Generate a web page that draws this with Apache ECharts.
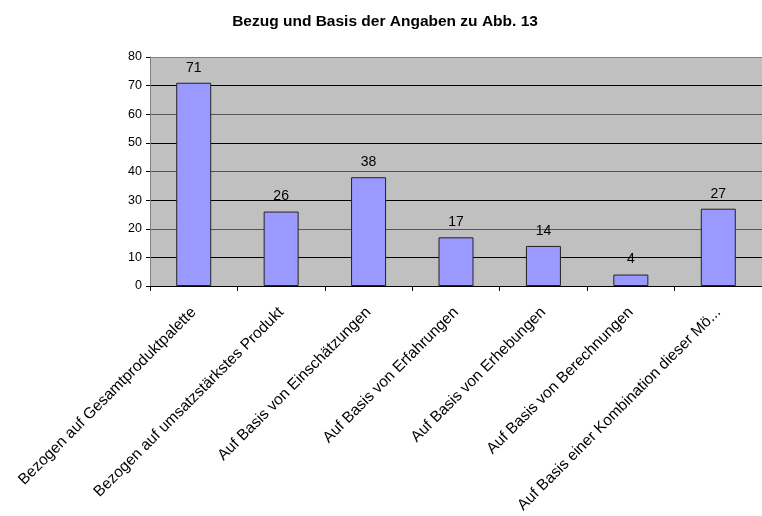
<!DOCTYPE html>
<html>
<head>
<meta charset="utf-8">
<script src="https://cdn.jsdelivr.net/npm/echarts@6/dist/echarts.min.js"></script>
<style>
  html, body { margin: 0; padding: 0; background: #fff; }
  #chart { width: 762px; height: 516px; }
</style>
</head>
<body>
<div id="chart"></div>
<script>
// Kategorien und Werte
const categories = [
  'Bezogen auf Gesamtproduktpalette',
  'Bezogen auf umsatzstärkstes Produkt',
  'Auf Basis von Einschätzungen',
  'Auf Basis von Erfahrungen',
  'Auf Basis von Erhebungen',
  'Auf Basis von Berechnungen',
  'Auf Basis einer Kombination dieser Mö...'
];
const values = [71, 26, 38, 17, 14, 4, 27];
const yTicks = [0, 10, 20, 30, 40, 50, 60, 70, 80];

const font = '"Liberation Sans", Arial, sans-serif';
const chart = echarts.init(document.getElementById('chart'));
chart.setOption({
  animation: false,
  title: {
    text: 'Bezug und Basis der Angaben zu Abb. 13',
    left: 380,
    top: 9,
    textAlign: 'center',
    textStyle: { fontFamily: font, fontSize: 15.5, fontWeight: 'bold', color: '#000' }
  },
  grid: {
    left: 150,
    top: 57,
    width: 616,
    height: 229,
    backgroundColor: '#c0c0c0',
    show: true,
    borderWidth: 0
  },
  xAxis: {
    type: 'category',
    data: categories,
    boundaryGap: true,
    axisLine: { lineStyle: { color: '#000', width: 1 } },
    axisTick: { show: true, length: 5, lineStyle: { color: '#000' } },
    axisLabel: {
      rotate: 45,
      interval: 0,
      margin: 24,
      fontFamily: font,
      fontSize: 15.5,
      color: '#000'
    }
  },
  yAxis: {
    type: 'value',
    min: yTicks[0],
    max: yTicks[yTicks.length - 1],
    interval: 10,
    axisLine: { show: true, lineStyle: { color: '#808080', width: 1 } },
    axisTick: { show: true, length: 4, lineStyle: { color: '#000' } },
    axisLabel: { fontFamily: font, fontSize: 12.5, color: '#000', margin: 8 },
    splitLine: { show: true, lineStyle: { color: ['#000', '#000', '#555', '#000', '#555', '#000', '#555', '#000', '#808080'], width: 1 } }
  },
  series: [{
    type: 'bar',
    data: values,
    barWidth: 35,
    itemStyle: { color: '#9999ff', borderColor: '#222', borderWidth: 1 },
    label: {
      show: true,
      position: 'top',
      distance: 8,
      fontFamily: font,
      fontSize: 14,
      color: '#000'
    }
  }]
});
</script>
</body>
</html>
